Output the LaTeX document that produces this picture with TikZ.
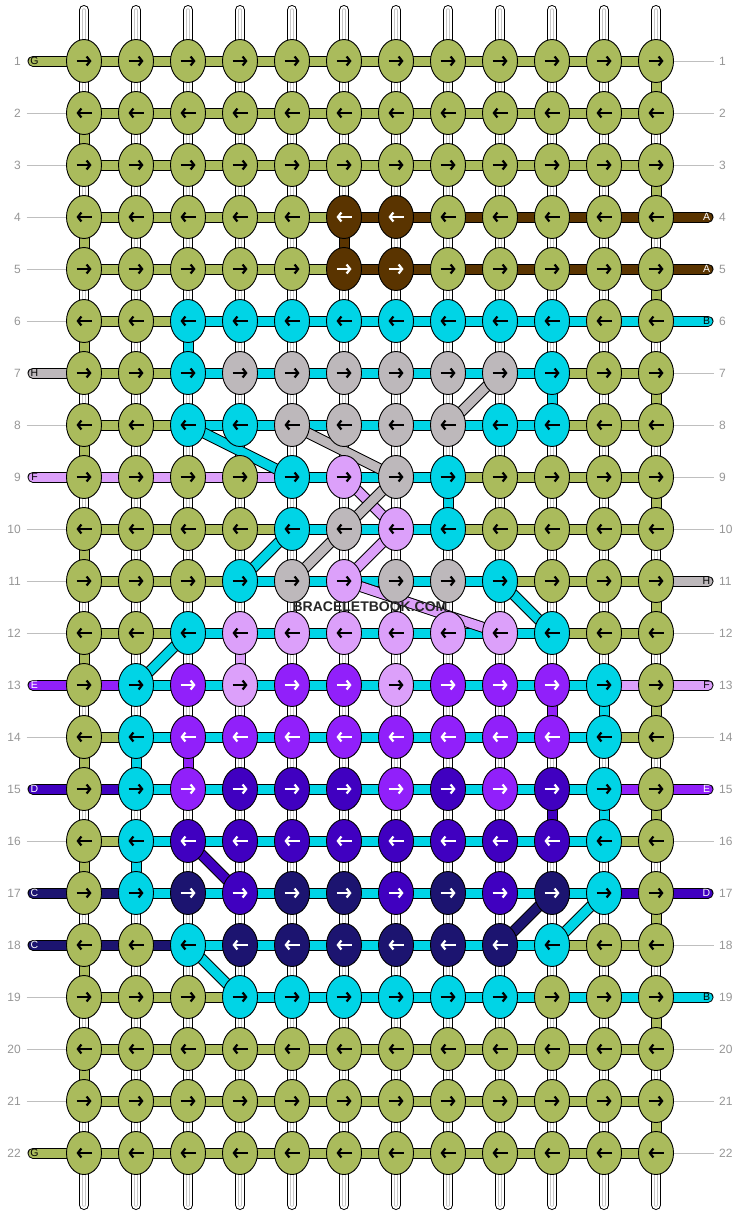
\documentclass[tikz,border=0pt]{standalone}
\usepackage{fontspec}
\setmainfont{Liberation Sans}
\usetikzlibrary{shapes.geometric,arrows.meta}

\definecolor{kG}{RGB}{170,187,92}
\definecolor{kA}{RGB}{90,52,0}
\definecolor{kB}{RGB}{0,212,230}
\definecolor{kH}{RGB}{189,184,187}
\definecolor{kF}{RGB}{220,160,250}
\definecolor{kE}{RGB}{145,32,250}
\definecolor{kD}{RGB}{64,0,192}
\definecolor{kC}{RGB}{28,20,112}
\colorlet{aG}{black}
\colorlet{aB}{black}
\colorlet{aH}{black}
\colorlet{aF}{black}
\colorlet{aA}{white}
\colorlet{aE}{white}
\colorlet{aD}{white}
\colorlet{aC}{white}
\definecolor{rowgray}{RGB}{150,150,150}

\pgfdeclarelayer{warps}
\pgfdeclarelayer{bands}
\pgfsetlayers{warps,bands,main}

\tikzset{
  knot/.style={ellipse, draw=black, line width=0.9pt, minimum width=35pt, minimum height=43pt, inner sep=0pt},
  band/.style={draw=black, line width=1pt, double distance=9pt},
  pill/.style={band, line cap=round},
  warp/.style={draw=black, double=white, line width=1pt, double distance=8pt, line cap=round},
  warpcore/.style={draw=gray!45, double=white, line width=0.6pt, double distance=2pt, line cap=round},
  arrowline/.style={line width=2.2pt, -{Straight Barb[length=3.5pt,width=9pt]}},
  rownum/.style={text=rowgray, font=\fontsize{12}{14}\selectfont, inner xsep=5.5pt, inner ysep=1pt},
  labline/.style={draw=gray!50, line width=0.8pt},
  pinletter/.style={font=\fontsize{10.5}{12}\selectfont, inner sep=0pt},
}

\begin{document}
\begin{tikzpicture}[x=1pt,y=-1pt]
\useasboundingbox (0,0) rectangle (740,1216);

\foreach \c in {1,...,12}{
  \coordinate (w-\c-top) at ({52*\c+32},10);
  \coordinate (w-\c-bot) at ({52*\c+32},1205);
  \begin{pgfonlayer}{warps}
    \draw[warp] (w-\c-top) -- (w-\c-bot);
    \draw[warpcore] (w-\c-top) -- (w-\c-bot);
  \end{pgfonlayer}
}

\foreach \r/\knots/\segs/\lend/\rend in {
  1/{G,G,G,G,G,G,G,G,G,G,G,G}/{G,G,G,G,G,G,G,G,G,G,G}/G/-,
  2/{G,G,G,G,G,G,G,G,G,G,G,G}/{G,G,G,G,G,G,G,G,G,G,G}/-/-,
  3/{G,G,G,G,G,G,G,G,G,G,G,G}/{G,G,G,G,G,G,G,G,G,G,G}/-/-,
  4/{G,G,G,G,G,A,A,G,G,G,G,G}/{G,G,G,G,G,A,A,A,A,A,A}/-/A,
  5/{G,G,G,G,G,A,A,G,G,G,G,G}/{G,G,G,G,G,A,A,A,A,A,A}/-/A,
  6/{G,G,B,B,B,B,B,B,B,B,G,G}/{G,G,B,B,B,B,B,B,B,B,B}/-/B,
  7/{G,G,B,H,H,H,H,H,H,B,G,G}/{G,G,B,B,B,B,B,B,B,G,G}/H/-,
  8/{G,G,B,B,H,H,H,H,B,B,G,G}/{G,G,B,B,B,B,B,B,B,G,G}/-/-,
  9/{G,G,G,G,B,F,H,B,G,G,G,G}/{F,F,F,F,B,B,B,G,G,G,G}/F/-,
  10/{G,G,G,G,B,H,F,B,G,G,G,G}/{G,G,G,G,B,B,B,G,G,G,G}/-/-,
  11/{G,G,G,B,H,F,H,H,B,G,G,G}/{G,G,G,B,B,B,B,B,G,G,G}/-/H,
  12/{G,G,B,F,F,F,F,F,F,B,G,G}/{G,G,B,B,B,B,B,B,B,G,G}/-/-,
  13/{G,B,E,F,E,E,F,E,E,E,B,G}/{E,B,B,B,B,B,B,B,B,B,F}/E/F,
  14/{G,B,E,E,E,E,E,E,E,E,B,G}/{G,B,B,B,B,B,B,B,B,B,G}/-/-,
  15/{G,B,E,D,D,D,E,D,E,D,B,G}/{D,B,B,B,B,B,B,B,B,B,E}/D/E,
  16/{G,B,D,D,D,D,D,D,D,D,B,G}/{G,B,B,B,B,B,B,B,B,B,G}/-/-,
  17/{G,B,C,D,C,C,D,C,D,C,B,G}/{C,B,B,B,B,B,B,B,B,B,D}/C/D,
  18/{G,G,B,C,C,C,C,C,C,B,G,G}/{C,C,B,B,B,B,B,B,B,G,G}/C/-,
  19/{G,G,G,B,B,B,B,B,B,G,G,G}/{G,G,G,B,B,B,B,B,B,B,B}/-/B,
  20/{G,G,G,G,G,G,G,G,G,G,G,G}/{G,G,G,G,G,G,G,G,G,G,G}/-/-,
  21/{G,G,G,G,G,G,G,G,G,G,G,G}/{G,G,G,G,G,G,G,G,G,G,G}/-/-,
  22/{G,G,G,G,G,G,G,G,G,G,G,G}/{G,G,G,G,G,G,G,G,G,G,G}/G/-}{
  \node[rownum, anchor=east] (ln-\r) at (26.5,{52*\r+9}) {\r};
  \node[rownum, anchor=west] (rn-\r) at (713.5,{52*\r+9}) {\r};
  \foreach \k [count=\c] in \knots {
    \node[knot, fill=k\k] (k-\r-\c) at ({52*\c+32},{52*\r+9}) {};
    \ifodd\r\relax
      \draw[arrowline, draw=a\k] ([xshift=-7.5pt]k-\r-\c.center) -- ([xshift=7.5pt]k-\r-\c.center);
    \else
      \draw[arrowline, draw=a\k] ([xshift=7.5pt]k-\r-\c.center) -- ([xshift=-7.5pt]k-\r-\c.center);
    \fi
  }
  \begin{pgfonlayer}{bands}
    \foreach \s [count=\c] in \segs {
      \pgfmathtruncatemacro{\n}{\c+1}
      \draw[band, double=k\s] (k-\r-\c.center) -- (k-\r-\n.center);
    }
  \end{pgfonlayer}
  \if\lend-
    \begin{pgfonlayer}{bands}
      \draw[labline] (ln-\r) -- (k-\r-1);
    \end{pgfonlayer}
  \else
    \coordinate (e-l-\r) at (33,{52*\r+9});
    \begin{pgfonlayer}{bands}
      \draw[pill, double=k\lend] (e-l-\r) -- (k-\r-1.center);
    \end{pgfonlayer}
    \node[pinletter, text=a\lend] (p-l-\r) at (34.5,{52*\r+9}) {\lend};
  \fi
  \if\rend-
    \begin{pgfonlayer}{bands}
      \draw[labline] (k-\r-12) -- (rn-\r);
    \end{pgfonlayer}
  \else
    \coordinate (e-r-\r) at (708,{52*\r+9});
    \begin{pgfonlayer}{bands}
      \draw[pill, double=k\rend] (k-\r-12.center) -- (e-r-\r);
    \end{pgfonlayer}
    \node[pinletter, text=a\rend] (p-r-\r) at (706.5,{52*\r+9}) {\rend};
  \fi
}

\begin{pgfonlayer}{bands}
  \foreach \r in {1,...,21}{
    \pgfmathtruncatemacro{\n}{\r+1}
    \ifodd\r\relax \def\tc{12}\else \def\tc{1}\fi
    \draw[band, double=kG] (k-\r-\tc.center) -- (k-\n-\tc.center);
  }
  \foreach \r/\c/\s in {4/6/A, 6/3/B, 7/10/B, 9/8/B, 12/4/F, 13/10/E, 13/11/B,
      14/2/B, 14/3/E, 15/10/D, 15/11/B, 16/2/B}{
    \pgfmathtruncatemacro{\n}{\r+1}
    \draw[band, double=k\s] (k-\r-\c.center) -- (k-\n-\c.center);
  }
  \foreach \r/\a/\b/\s in {7/9/8/H, 8/3/5/B, 8/5/7/H, 9/6/7/F, 9/7/6/H, 10/5/4/B,
      10/6/5/H, 10/7/6/F, 11/9/10/B, 11/6/9/F, 12/3/2/B, 16/3/4/D, 17/10/9/C,
      17/11/10/B, 18/3/4/B}{
    \pgfmathtruncatemacro{\n}{\r+1}
    \draw[band, double=k\s] (k-\r-\a.center) -- (k-\n-\b.center);
  }
\end{pgfonlayer}

\node[font=\bfseries\fontsize{14}{16}\selectfont, text=black!85] (wm) at (370,607) {BRACELETBOOK.COM};

\end{tikzpicture}
\end{document}
